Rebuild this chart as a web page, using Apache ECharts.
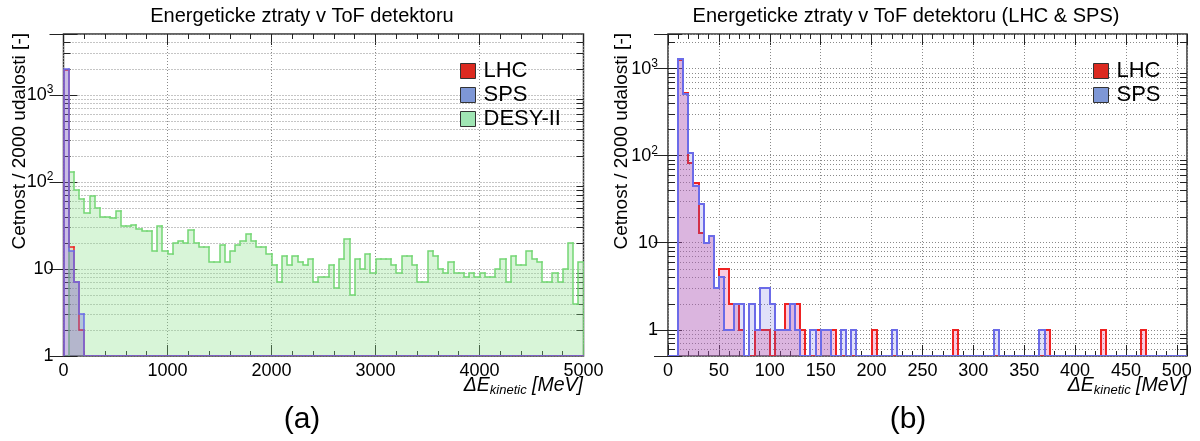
<!DOCTYPE html>
<html>
<head>
<meta charset="utf-8">
<script src="https://cdn.jsdelivr.net/npm/echarts@6/dist/echarts.min.js"></script>
<style>
  html, body { margin: 0; padding: 0; background: #fff; }
  #chart { width: 1200px; height: 441px; }
</style>
</head>
<body>
<div id="chart"></div>
<script>
// ---- Data ---------------------------------------------------------------
// Panel (a): counts per 50 MeV bin, 0 .. 5000 MeV (bins after the listed ones are empty)
const binWidthA = 50;
const binCountA = 100;
const lhcA  = [1955, 18, 7, 2];
const spsA  = [1960, 16, 7, 3];
const desyA = [
  0, 130, 81, 64, 44, 69, 50, 40, 40, 38,
  46, 31, 31, 32, 29, 27, 27, 16, 31, 16,
  15, 20, 21, 20, 28, 20, 18, 18, 12, 12,
  19, 12, 16, 19, 21, 25, 21, 18, 18, 15,
  11, 7, 14, 11, 14, 12, 11, 13, 7, 8,
  8, 11, 6, 13, 22, 5, 13, 10, 15, 9,
  13, 13, 13, 11, 9, 14, 14, 11, 7, 7,
  16, 14, 10, 9, 12, 9, 9, 8, 9, 8,
  9, 8, 8, 10, 13, 7, 14, 11, 11, 16,
  13, 12, 7, 7, 9, 7, 10, 20, 4, 12
];

// Panel (b): [bin low edge (MeV), count] for the non-empty 5 MeV bins, 0 .. 510 MeV
const binWidthB = 5;
const binCountB = 102;
const lhcB = [
  [10, 1270], [15, 530], [20, 82], [25, 48], [30, 13], [35, 10], [40, 12], [45, 3],
  [50, 5], [55, 5], [60, 2], [65, 2], [70, 1], [85, 1], [90, 1], [95, 1],
  [105, 1], [110, 1], [115, 2], [120, 2], [125, 2], [130, 1], [145, 1], [150, 1],
  [155, 1], [160, 1], [200, 1], [280, 1], [370, 1], [425, 1], [465, 1]
];
const spsB = [
  [10, 1280], [15, 505], [20, 108], [25, 45], [30, 28], [35, 10], [40, 12], [45, 3],
  [50, 4], [55, 1], [60, 1], [65, 2], [70, 2], [80, 2], [85, 1], [90, 3], [95, 3],
  [100, 2], [105, 1], [110, 1], [115, 1], [120, 2], [125, 1], [140, 1], [150, 1],
  [155, 1], [170, 1], [180, 1], [220, 1], [320, 1], [365, 1]
];

// Axis ranges and tick spacing
const xRangeA = [0, 5000], xMajorA = 1000, xMinorA = 200;
const xRangeB = [0, 510],  xMajorB = 50,   xMinorB = 10;
const yRangeA = [1, 5000];
const yRangeB = [0.5, 2500];
const minorMultipliers = [2, 3, 4, 5, 6, 7, 8, 9];

// ---- Helpers ------------------------------------------------------------
const FONT = "'Liberation Sans', Arial, Helvetica, sans-serif";

function padCounts(list, n) {
  const out = [];
  for (let i = 0; i < n; i++) out.push(list[i] || 0);
  return out;
}
function countsFromPairs(pairs, width, n) {
  const out = new Array(n).fill(0);
  pairs.forEach(([lo, c]) => { out[Math.round(lo / width)] = c; });
  return out;
}
// rows: [low edge, high edge, count, previous count, last flag]
function histRows(counts, width) {
  return counts.map((c, i) => [i * width, (i + 1) * width, c, i ? counts[i - 1] : 0, i === counts.length - 1 ? 1 : 0]);
}
function minorLevels(range) {
  const out = [];
  for (let e = Math.floor(Math.log10(range[0])); e <= Math.ceil(Math.log10(range[1])); e++) {
    minorMultipliers.forEach(k => {
      const v = k * Math.pow(10, e);
      if (v > range[0] * 1.0001 && v < range[1] * 0.9999) out.push(v);
    });
  }
  return out;
}

// Step-histogram bin: filled box plus outline joined to the previous bin
function stepRenderer(yFloor, stroke, fill, lw) {
  return function (params, api) {
    const x0 = api.value(0), x1 = api.value(1), c = api.value(2), prev = api.value(3), last = api.value(4);
    const yc = c > 0 ? c : yFloor, yp = prev > 0 ? prev : yFloor;
    const r = p => [Math.round(p[0]), Math.round(p[1])];
    const a = r(api.coord([x0, yc])), b = r(api.coord([x1, yc]));
    const p = r(api.coord([x0, yp])), base = r(api.coord([x0, yFloor]));
    const kids = [];
    if (c > 0 && fill) {
      kids.push({ type: 'rect', shape: { x: a[0], y: a[1], width: b[0] - a[0], height: base[1] - a[1] }, style: { fill: fill } });
    }
    const pts = [p, a, b];
    if (last && c > 0) pts.push([b[0], base[1]]);
    kids.push({ type: 'polyline', shape: { points: pts }, style: { stroke: stroke, lineWidth: lw, fill: null, lineCap: 'square', lineJoin: 'miter' } });
    return { type: 'group', children: kids };
  };
}

// Minor log grid line with inner ticks on both frame sides
function minorGridRenderer(tickLen) {
  return function (params, api) {
    const cs = params.coordSys;
    const y = Math.round(api.coord([api.value(0), api.value(1)])[1]) + 0.5;
    return {
      type: 'group', children: [
        { type: 'line', shape: { x1: cs.x, y1: y, x2: cs.x + cs.width, y2: y }, style: { stroke: '#8a8a8a', lineWidth: 1, lineDash: [1, 2] } },
        { type: 'line', shape: { x1: cs.x, y1: y, x2: cs.x + tickLen, y2: y }, style: { stroke: '#222', lineWidth: 1 } },
        { type: 'line', shape: { x1: cs.x + cs.width - tickLen, y1: y, x2: cs.x + cs.width, y2: y }, style: { stroke: '#222', lineWidth: 1 } }
      ]
    };
  };
}

function logLabel(v) {
  const e = Math.log10(v), r = Math.round(e);
  if (Math.abs(e - r) > 1e-6) return '';
  if (r === 0) return '1';
  if (r === 1) return '10';
  return '{b|10}{s|' + r + '}';
}
const logRich = {
  b: { fontSize: 18, fontFamily: FONT, color: '#000', lineHeight: 22 },
  s: { fontSize: 12, fontFamily: FONT, color: '#000', lineHeight: 12, verticalAlign: 'top' }
};

function xAxes(grid, range, major, minor, labelFmt) {
  const common = { type: 'value', gridIndex: grid, min: range[0], max: range[1],
    axisLine: { show: false, onZero: false }, splitLine: { show: false }, axisLabel: { show: false } };
  return [
    Object.assign({}, common, { position: 'bottom', interval: major,
      axisTick: { show: true, inside: true, length: 11, lineStyle: { color: '#222', width: 1 } },
      axisLabel: { show: true, margin: 6, fontSize: 18, fontFamily: FONT, color: '#000', formatter: labelFmt },
      splitLine: { show: true, lineStyle: { color: '#8a8a8a', width: 1, type: [1, 2] } } }),
    Object.assign({}, common, { position: 'bottom', interval: minor,
      axisTick: { show: true, inside: true, length: 5, lineStyle: { color: '#222', width: 1 } } }),
    Object.assign({}, common, { position: 'top', interval: major,
      axisTick: { show: true, inside: true, length: 11, lineStyle: { color: '#222', width: 1 } } }),
    Object.assign({}, common, { position: 'top', interval: minor,
      axisTick: { show: true, inside: true, length: 5, lineStyle: { color: '#222', width: 1 } } })
  ];
}
function yAxes(grid, range) {
  const common = { type: 'log', logBase: 10, gridIndex: grid, min: range[0], max: range[1],
    axisLine: { show: false } };
  return [
    Object.assign({}, common, { position: 'left',
      axisTick: { show: true, inside: true, length: 14, lineStyle: { color: '#222', width: 1 } },
      axisLabel: { show: true, margin: 10, formatter: logLabel, rich: logRich, fontSize: 18, fontFamily: FONT, color: '#000' },
      splitLine: { show: true, lineStyle: { color: '#8a8a8a', width: 1, type: [1, 2] } } }),
    Object.assign({}, common, { position: 'right',
      axisTick: { show: true, inside: true, length: 14, lineStyle: { color: '#222', width: 1 } },
      axisLabel: { show: false }, splitLine: { show: false } })
  ];
}

// ---- Colours ------------------------------------------------------------
const C = {
  lhcLine: '#ee2222', spsLine: '#6b6be8', desyLine: '#74d674',
  lhcFillA: 'rgba(235,60,60,0.12)', spsFillA: 'rgba(100,100,220,0.32)', desyFill: 'rgba(140,225,140,0.34)',
  lhcFillB: 'rgba(235,80,150,0.30)', spsFillB: 'rgba(100,100,225,0.20)',
  lhcKey: '#dc2a20', spsKey: '#7e97d6', desyKey: '#a0e6b4'
};

// ---- Chart --------------------------------------------------------------
const rowsDesyA = histRows(padCounts(desyA, binCountA), binWidthA);
const rowsLhcA  = histRows(padCounts(lhcA, binCountA), binWidthA);
const rowsSpsA  = histRows(padCounts(spsA, binCountA), binWidthA);
const rowsLhcB  = histRows(countsFromPairs(lhcB, binWidthB, binCountB), binWidthB);
const rowsSpsB  = histRows(countsFromPairs(spsB, binWidthB, binCountB), binWidthB);

function histSeries(name, rows, xi, yi, yFloor, stroke, fill, lw, key) {
  return { type: 'custom', name: name, xAxisIndex: xi, yAxisIndex: yi, data: rows,
    encode: { x: [0, 1], y: 2 }, clip: true, silent: true, z: 3,
    itemStyle: { color: key }, renderItem: stepRenderer(yFloor, stroke, fill, lw) };
}
function gridSeries(levels, xi, yi, xMin) {
  return { type: 'custom', name: 'grid' + xi, xAxisIndex: xi, yAxisIndex: yi,
    data: levels.map(v => [xMin, v]), encode: { x: 0, y: 1 }, silent: true, z: 1,
    renderItem: minorGridRenderer(7) };
}

const legendText = { fontSize: 22, fontFamily: FONT, color: '#000', padding: [0, 0, 0, 3] };
const keyBorder = { borderColor: '#333', borderWidth: 1 };

const option = {
  animation: false,
  backgroundColor: '#fff',
  grid: [
    { left: 63.5, top: 34, width: 520, height: 322, show: true, borderColor: '#333', borderWidth: 1.5, backgroundColor: 'transparent' },
    { left: 668, top: 34, width: 519, height: 322, show: true, borderColor: '#333', borderWidth: 1.5, backgroundColor: 'transparent' }
  ],
  xAxis: [].concat(
    xAxes(0, xRangeA, xMajorA, xMinorA, v => String(v)),
    xAxes(1, xRangeB, xMajorB, xMinorB, v => (v % xMajorB === 0 ? String(v) : ''))
  ),
  yAxis: [].concat(yAxes(0, yRangeA), yAxes(1, yRangeB)),
  legend: [
    { left: 460, top: 60, orient: 'vertical', itemWidth: 15, itemHeight: 15, itemGap: 2, padding: 0,
      selectedMode: false, textStyle: legendText, icon: 'rect',
      data: [
        { name: 'LHC', itemStyle: Object.assign({ color: C.lhcKey }, keyBorder) },
        { name: 'SPS', itemStyle: Object.assign({ color: C.spsKey }, keyBorder) },
        { name: 'DESY-II', itemStyle: Object.assign({ color: C.desyKey }, keyBorder) }
      ] },
    { left: 1093, top: 60, orient: 'vertical', itemWidth: 15, itemHeight: 15, itemGap: 2, padding: 0,
      selectedMode: false, textStyle: legendText, icon: 'rect',
      data: [
        { name: 'LHC', itemStyle: Object.assign({ color: C.lhcKey }, keyBorder) },
        { name: 'SPS', itemStyle: Object.assign({ color: C.spsKey }, keyBorder) }
      ] }
  ],
  graphic: [
    { type: 'text', x: 302, y: 16, style: { text: 'Energeticke ztraty v ToF detektoru', font: '20px ' + FONT, fill: '#000', align: 'center', verticalAlign: 'middle' } },
    { type: 'text', x: 906, y: 16, style: { text: 'Energeticke ztraty v ToF detektoru (LHC & SPS)', font: '20px ' + FONT, fill: '#000', align: 'center', verticalAlign: 'middle' } },
    { type: 'text', x: 20, y: 33, rotation: Math.PI / 2, style: { text: 'Cetnost / 2000 udalosti [-]', font: '19px ' + FONT, fill: '#000', align: 'right', verticalAlign: 'middle' } },
    { type: 'text', x: 622, y: 33, rotation: Math.PI / 2, style: { text: 'Cetnost / 2000 udalosti [-]', font: '19px ' + FONT, fill: '#000', align: 'right', verticalAlign: 'middle' } },
    { type: 'text', x: 583, y: 386, style: { text: '{a|ΔE}{s|kinetic}{a| [MeV]}', align: 'right', verticalAlign: 'middle',
        rich: { a: { fontSize: 19.5, fontStyle: 'italic', fontFamily: FONT, fill: '#000', lineHeight: 21 },
                s: { fontSize: 13, fontStyle: 'italic', fontFamily: FONT, fill: '#000', lineHeight: 13, verticalAlign: 'bottom' } } } },
    { type: 'text', x: 1187, y: 386, style: { text: '{a|ΔE}{s|kinetic}{a| [MeV]}', align: 'right', verticalAlign: 'middle',
        rich: { a: { fontSize: 19.5, fontStyle: 'italic', fontFamily: FONT, fill: '#000', lineHeight: 21 },
                s: { fontSize: 13, fontStyle: 'italic', fontFamily: FONT, fill: '#000', lineHeight: 13, verticalAlign: 'bottom' } } } },
    { type: 'text', x: 302, y: 420, style: { text: '(a)', font: '30px ' + FONT, fill: '#000', align: 'center', verticalAlign: 'middle' } },
    { type: 'text', x: 908, y: 420, style: { text: '(b)', font: '30px ' + FONT, fill: '#000', align: 'center', verticalAlign: 'middle' } }
  ],
  series: [
    gridSeries(minorLevels(yRangeA), 0, 0, xRangeA[0]),
    histSeries('DESY-II', rowsDesyA, 0, 0, yRangeA[0], C.desyLine, C.desyFill, 1.5, C.desyKey),
    histSeries('LHC', rowsLhcA, 0, 0, yRangeA[0], C.lhcLine, C.lhcFillA, 1.5, C.lhcKey),
    histSeries('SPS', rowsSpsA, 0, 0, yRangeA[0], C.spsLine, C.spsFillA, 1.5, C.spsKey),
    gridSeries(minorLevels(yRangeB), 4, 2, xRangeB[0]),
    histSeries('LHC', rowsLhcB, 4, 2, yRangeB[0], C.lhcLine, C.lhcFillB, 2, C.lhcKey),
    histSeries('SPS', rowsSpsB, 4, 2, yRangeB[0], C.spsLine, C.spsFillB, 2, C.spsKey)
  ]
};

const chart = echarts.init(document.getElementById('chart'), null, { renderer: 'canvas', width: 1200, height: 441 });
chart.setOption(option);
</script>
</body>
</html>
